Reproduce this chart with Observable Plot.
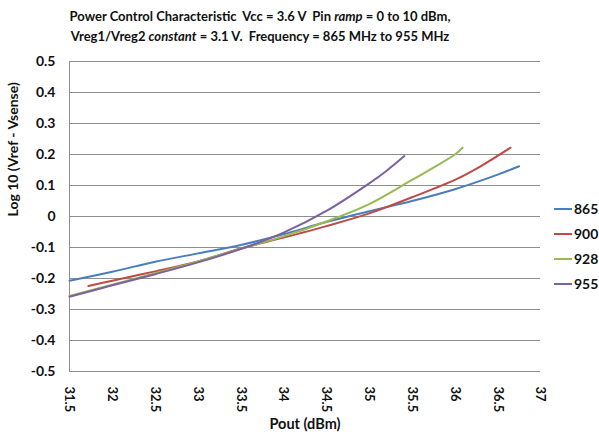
<!DOCTYPE html>
<html>
<head>
<meta charset="utf-8">
<script src="https://cdn.jsdelivr.net/npm/d3@7"></script>
<script src="https://cdn.jsdelivr.net/npm/@observablehq/plot@0.6"></script>
<style>
  body { margin: 0; background: #fff; font-family: Lato, "Open Sans", sans-serif; }
  #wrap { position: relative; width: 599px; height: 432px; overflow: hidden; }
  #title { position: absolute; left: 0; top: 0; width: 520px; height: 50px; text-align: center; font-weight: bold; font-size: 13px; color: #111; }
  .tl { height: 20px; line-height: 20px; white-space: pre; }
  .tl1 { margin-top: 6px; }
  #chart { position: absolute; left: 0; top: 50px; }
  #legend { position: absolute; left: 554px; top: 196px; font-weight: bold; font-size: 14px; color: #111; }
  .li { display: flex; align-items: center; height: 25px; }
  .sw { width: 18px; height: 2px; margin-right: 2px; }
</style>
</head>
<body>
<div id="wrap">
  <div id="title">
    <div class="tl tl1"><span>Power Control Characteristic  Vcc = 3.6 V  Pin </span><i>ramp</i><span> = 0 to 10 dBm,</span></div>
    <div class="tl"><span>Vreg1/Vreg2 </span><i>constant</i><span> = 3.1 V.  Frequency = 865 MHz to 955 MHz</span></div>
  </div>
  <div id="chart"></div>
  <div id="legend"></div>
</div>
<script>
const seriesNames = ["865", "900", "928", "955"];
const seriesColors = ["#4A7EBB", "#BE4B48", "#98B954", "#7D60A0"];

const x865 = [31.5, 32, 32.5, 33, 33.5, 34, 34.5, 35, 35.5, 36, 36.5, 36.75];
const y865 = [-0.207, -0.178, -0.146, -0.119, -0.092, -0.057, -0.018, 0.017, 0.05, 0.088, 0.135, 0.162];

const x900 = [31.72, 32, 32.5, 33, 33.5, 34, 34.5, 35, 35.5, 36, 36.3, 36.65];
const y900 = [-0.224, -0.207, -0.177, -0.145, -0.103, -0.068, -0.031, 0.010, 0.062, 0.118, 0.162, 0.222];

const x928 = [31.5, 32, 32.5, 33, 33.5, 34, 34.5, 35, 35.5, 35.75, 36, 36.09];
const y928 = [-0.256, -0.220, -0.183, -0.145, -0.104, -0.064, -0.016, 0.040, 0.118, 0.158, 0.200, 0.222];

const x955 = [31.5, 32, 32.5, 33, 33.5, 34, 34.5, 35, 35.2, 35.41];
const y955 = [-0.259, -0.222, -0.186, -0.148, -0.105, -0.052, 0.018, 0.107, 0.147, 0.195];

const xTicks = [31.5, 32, 32.5, 33, 33.5, 34, 34.5, 35, 35.5, 36, 36.5, 37];
const yTicks = [-0.5, -0.4, -0.3, -0.2, -0.1, 0, 0.1, 0.2, 0.3, 0.4, 0.5];
const xLabel = "Pout (dBm)";
const yLabel = "Log 10 (Vref - Vsense)";

const xs = [x865, x900, x928, x955];
const ys = [y865, y900, y928, y955];
const data = [];
seriesNames.forEach((s, i) => xs[i].forEach((x, j) => data.push({series: s, x, y: ys[i][j]})));

const fmt = d => String(Math.round(d * 10) / 10);

const chart = Plot.plot({
  width: 599,
  height: 382,
  marginTop: 11,
  marginLeft: 69,
  marginRight: 59,
  marginBottom: 61,
  style: {fontFamily: "Lato, 'Open Sans', sans-serif", fontSize: "13px", fontWeight: "bold", color: "#111", background: "#fff"},
  x: {domain: [31.5, 37]},
  y: {domain: [-0.5, 0.5]},
  color: {domain: seriesNames, range: seriesColors},
  marks: [
    Plot.gridY(yTicks, {stroke: "#8e8e8e", strokeOpacity: 1, strokeWidth: 1}),
    Plot.ruleX([31.5], {stroke: "#8e8e8e", strokeWidth: 1}),
    Plot.axisY(yTicks, {tickSize: 0, tickPadding: 14, tickFormat: fmt, fontSize: 14, label: null}),
    Plot.axisX(xTicks, {tickSize: 0, tickPadding: 15, tickRotate: 90, tickFormat: fmt, fontSize: 13, label: null}),
    Plot.text([xLabel], {frameAnchor: "bottom", dy: 53, fontSize: 14.5, lineAnchor: "middle"}),
    Plot.text([yLabel], {frameAnchor: "left", dx: -56, rotate: -90, fontSize: 14, lineAnchor: "middle"}),
    Plot.line(data, {x: "x", y: "y", z: "series", stroke: "series", strokeWidth: 2, curve: "catmull-rom"})
  ]
});
document.getElementById("chart").appendChild(chart);

const legend = document.getElementById("legend");
seriesNames.forEach((s, i) => {
  const row = document.createElement("div");
  row.className = "li";
  const sw = document.createElement("span");
  sw.className = "sw";
  sw.style.background = seriesColors[i];
  const t = document.createElement("span");
  t.textContent = s;
  row.appendChild(sw);
  row.appendChild(t);
  legend.appendChild(row);
});
</script>
</body>
</html>
